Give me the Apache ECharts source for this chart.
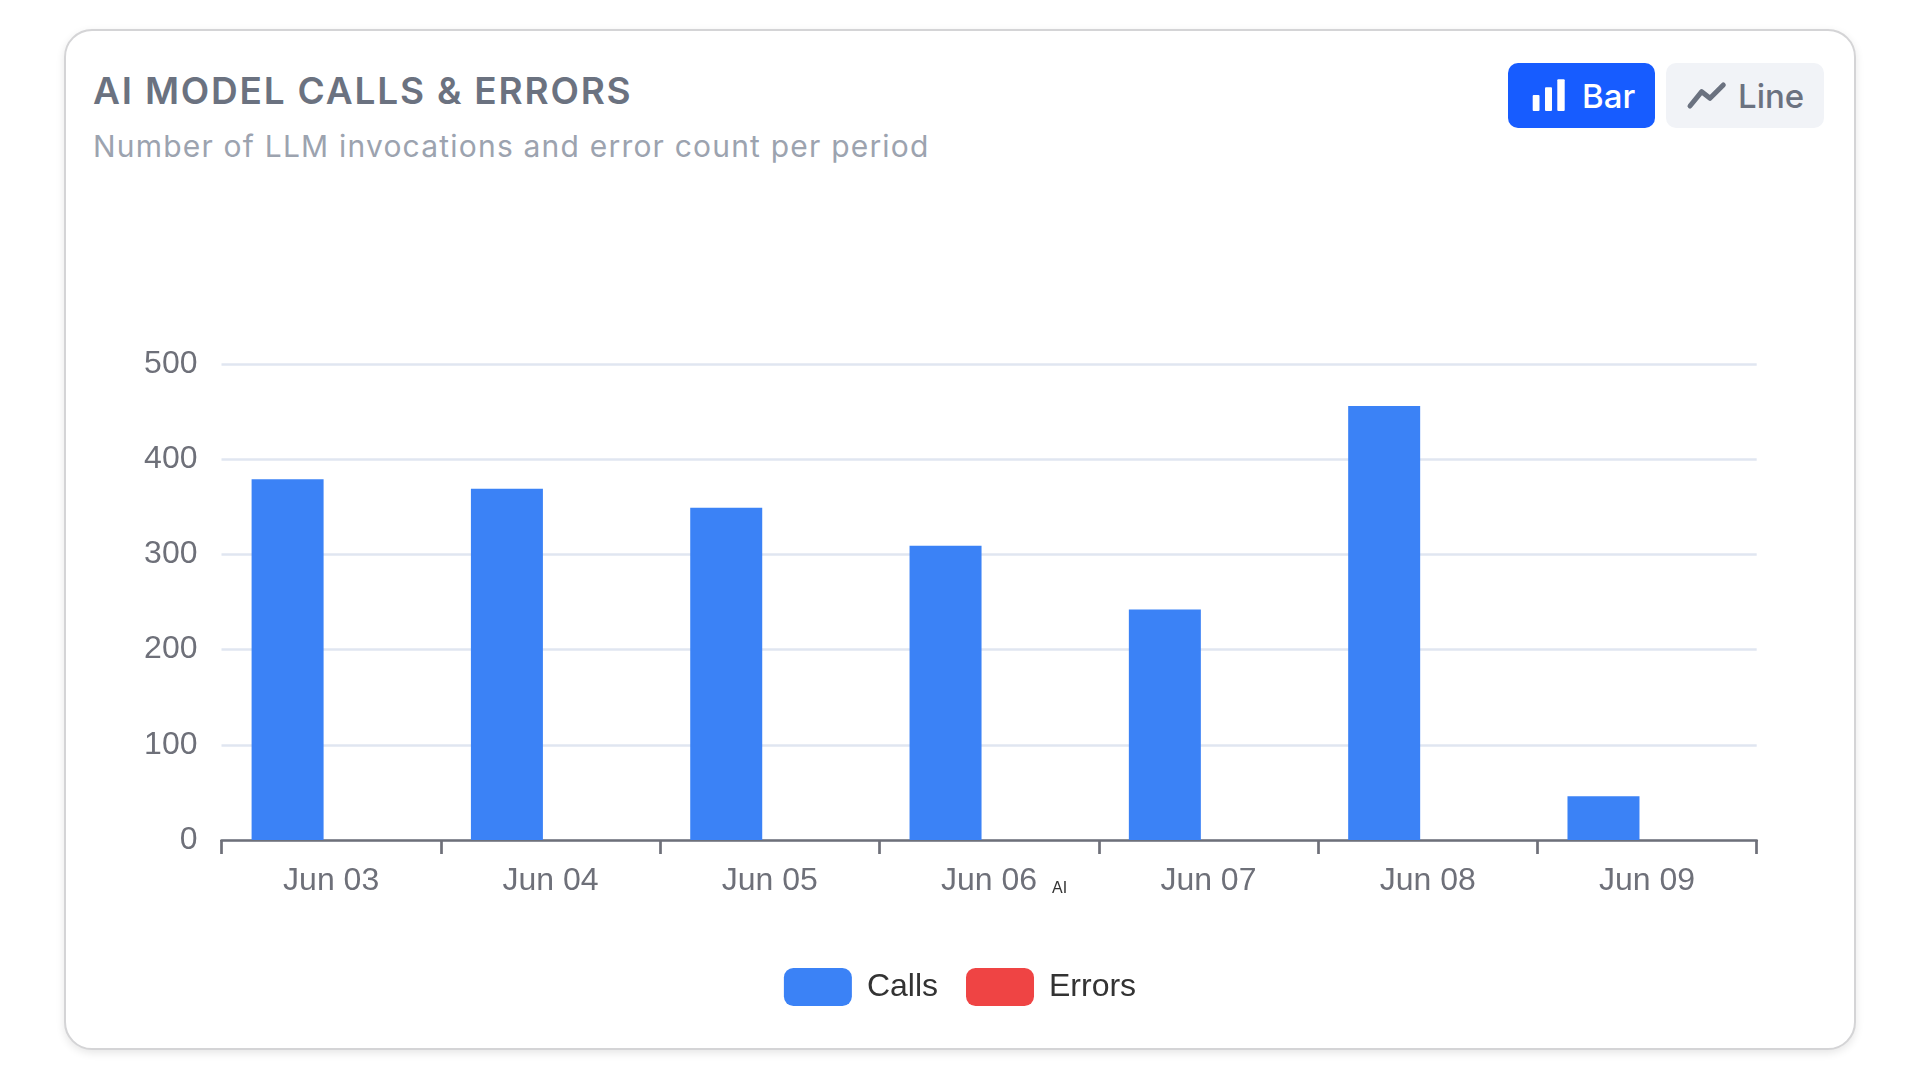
<!DOCTYPE html>
<html>
<head>
<meta charset="utf-8">
<script src="https://cdn.jsdelivr.net/npm/echarts@6/dist/echarts.min.js"></script>
<style>
  html, body { margin:0; padding:0; width:1920px; height:1080px; background:#ffffff; overflow:hidden; }
  #card { position:absolute; left:64px; top:29px; width:1792px; height:1021px; box-sizing:border-box;
          border:2px solid #d4d4d6; border-radius:28px; background:#fff;
          box-shadow:0 3px 8px rgba(0,0,0,0.10); }
  .t { position:absolute; white-space:nowrap; font-family:Inter, 'Noto Sans', sans-serif; margin:0; }
  #title { left:93px; top:72px; font-size:37px; line-height:37px; font-weight:600; color:#6b7280; letter-spacing:1.8px; }
  #subtitle { left:93px; top:131px; font-size:30px; line-height:30px; font-weight:400; color:#9ca3af; letter-spacing:1.2px; }
  .btn { position:absolute; top:63px; height:65px; border-radius:10px; }
  #btnBar { left:1508px; width:147px; background:#175cff; }
  #btnLine { left:1666px; width:158px; background:#f1f3f7; }
  .btxt { position:absolute; top:80px; font-size:33px; line-height:33px; font-weight:500; font-family:Inter, 'Noto Sans', sans-serif; white-space:nowrap; }
  #chart { position:absolute; left:0; top:0; width:1920px; height:1080px; }
</style>
</head>
<body>
<div id="card"></div>
<div class="t" id="title">AI MODEL CALLS &amp; ERRORS</div>
<div class="t" id="subtitle">Number of LLM invocations and error count per period</div>
<div class="btn" id="btnBar"></div>
<div class="btn" id="btnLine"></div>
<svg style="position:absolute;left:0;top:0;" width="1920" height="200">
  <rect x="1532.7" y="95" width="6.8" height="16" rx="1" fill="#ffffff"/>
  <rect x="1545" y="87.3" width="7" height="23.7" rx="1" fill="#ffffff"/>
  <rect x="1557.3" y="79.3" width="7.4" height="31.7" rx="1" fill="#ffffff"/>
  <polyline points="1690,106 1701.7,91.7 1710,98.3 1723.3,85" fill="none" stroke="#6b7280" stroke-width="5" stroke-linecap="round" stroke-linejoin="round"/>
</svg>
<div class="btxt" style="left:1582px;color:#ffffff;">Bar</div>
<div class="btxt" style="left:1738px;color:#6b7280;">Line</div>
<div id="chart"></div>
<script>
const categories = ['Jun 03', 'Jun 04', 'Jun 05', 'Jun 06', 'Jun 07', 'Jun 08', 'Jun 09'];
const callsValues = [379, 369, 349, 309, 242, 456, 46];
const errorValues = [0, 0, 0, 0, 0, 0, 0];
const seriesNames = ['Calls', 'Errors'];
const yMin = 0;
const yMax = 500;
const yInterval = 100;

const chart = echarts.init(document.getElementById('chart'), null, { renderer: 'canvas' });
const font = "'Liberation Sans', Arial, Helvetica, sans-serif";
chart.setOption({
  animation: false,
  textStyle: { fontFamily: font },
  grid: { left: 221.5, right: 163.3, top: 364, bottom: 240, containLabel: false },
  legend: {
    data: seriesNames,
    top: 968, left: 'center',
    padding: 0,
    itemWidth: 68, itemHeight: 38, itemGap: 28,
    textStyle: { fontSize: 32, color: '#333333', fontFamily: font, padding: [0, 0, 0, 10] }
  },
  xAxis: {
    type: 'category',
    data: categories,
    boundaryGap: true,
    axisLine: { show: true, lineStyle: { color: '#6E7079', width: 2.7 } },
    axisTick: { show: true, length: 14, lineStyle: { color: '#6E7079', width: 2.7 } },
    axisLabel: { fontSize: 32, color: '#6E7079', margin: 25.5, fontFamily: font }
  },
  yAxis: {
    type: 'value',
    min: yMin, max: yMax, interval: yInterval,
    axisLine: { show: false },
    axisTick: { show: false },
    splitLine: { lineStyle: { color: '#E0E6F1', width: 2.7 } },
    axisLabel: { fontSize: 32, color: '#6E7079', margin: 24, fontFamily: font }
  },
  series: [
    { name: seriesNames[0], type: 'bar', data: callsValues, barWidth: 72, barGap: '21%', itemStyle: { color: '#3b82f6' } },
    { name: seriesNames[1], type: 'bar', data: errorValues, barWidth: 72, barGap: '21%', itemStyle: { color: '#ef4444' } }
  ],
  graphic: [
    { type: 'text', left: 1052, top: 880.4, style: { text: 'AI', fontSize: 16, fill: '#333333', fontFamily: font } }
  ]
});
</script>
</body>
</html>
